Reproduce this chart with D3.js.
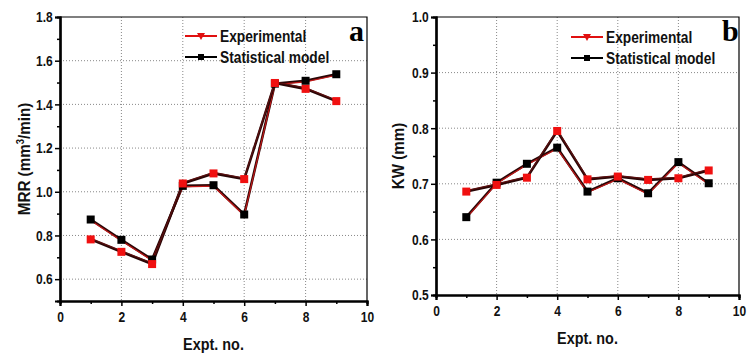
<!DOCTYPE html>
<html>
<head>
<meta charset="utf-8">
<script src="https://cdn.jsdelivr.net/npm/d3@7"></script>
<style>
  body { margin: 0; background: #fff; }
  text { font-family: "Liberation Sans", Arial, sans-serif; font-weight: bold; }
</style>
</head>
<body>
<script>
'use strict';

var expt = [1, 2, 3, 4, 5, 6, 7, 8, 9];

// panel a: MRR
var mrrExperimental = [0.782, 0.725, 0.669, 1.038, 1.084, 1.058, 1.498, 1.471, 1.415];
var mrrStatistical  = [0.873, 0.780, 0.690, 1.027, 1.030, 0.896, 1.495, 1.508, 1.538];
var mrrTicks = [0.6, 0.8, 1.0, 1.2, 1.4, 1.6, 1.8];

// panel b: KW
var kwExperimental = [0.686, 0.698, 0.711, 0.795, 0.708, 0.713, 0.707, 0.710, 0.724];
var kwStatistical  = [0.640, 0.702, 0.736, 0.765, 0.686, 0.710, 0.683, 0.739, 0.701];
var kwTicks = [0.5, 0.6, 0.7, 0.8, 0.9, 1.0];

var xTicks = [0, 2, 4, 6, 8, 10];
var legendNames = ["Experimental", "Statistical model"];

var svg = d3.select("body").append("svg")
   .attr("width", 752)
   .attr("height", 353);

// narrow-looking bold text (the original uses a condensed face)
function narrowText(parent, x, y, size, sx, str){
   return parent.append("text")
      .attr("transform", "translate(" + x + "," + y + ") scale(" + sx + ",1)")
      .attr("font-size", size).attr("fill", "#111")
      .text(str);
}

function drawPanel(cfg){
   var g = svg.append("g");
   var x = d3.scaleLinear().domain([0, 10]).range([cfg.left, cfg.right]);
   var y = d3.scaleLinear().domain(cfg.yDomain).range([cfg.bottom, cfg.top]);

   // dotted grid
   g.selectAll(".gx").data([2, 4, 6, 8]).enter().append("line")
      .attr("x1", function(d){ return x(d); }).attr("x2", function(d){ return x(d); })
      .attr("y1", cfg.top).attr("y2", cfg.bottom)
      .attr("stroke", "#888").attr("stroke-width", 1).attr("stroke-dasharray", "1,2");
   g.selectAll(".gy").data(cfg.grid).enter().append("line")
      .attr("x1", cfg.left).attr("x2", cfg.right)
      .attr("y1", function(d){ return y(d); }).attr("y2", function(d){ return y(d); })
      .attr("stroke", "#888").attr("stroke-width", 1).attr("stroke-dasharray", "1,2");

   // frame top/right
   g.append("path")
      .attr("d", "M" + cfg.left + "," + cfg.top + "H" + cfg.right + "V" + cfg.bottom)
      .attr("fill", "none").attr("stroke", "#000").attr("stroke-width", 1.2);

   // x axis
   g.append("g").attr("transform", "translate(0," + cfg.bottom + ")")
      .call(d3.axisBottom(x).tickValues(xTicks).tickFormat(d3.format("d")).tickSize(5).tickPadding(5));
   g.append("g").attr("transform", "translate(0," + cfg.bottom + ")")
      .call(d3.axisBottom(x).tickValues([1, 3, 5, 7, 9]).tickFormat("").tickSize(3));

   // y axis
   g.append("g").attr("transform", "translate(" + cfg.left + ",0)")
      .call(d3.axisLeft(y).tickValues(cfg.ticks).tickFormat(d3.format(".1f")).tickSize(5).tickPadding(4));
   g.append("g").attr("transform", "translate(" + cfg.left + ",0)")
      .call(d3.axisLeft(y).tickValues(cfg.minor).tickFormat("").tickSize(3));

   g.selectAll(".domain").attr("stroke", "#000").attr("stroke-width", 2.2);
   g.selectAll(".tick line").attr("stroke", "#000").attr("stroke-width", 1.5);
   g.selectAll(".tick text").attr("font-size", 15).attr("fill", "#111")
      .attr("transform", "scale(0.8,1)");

   // axis titles
   narrowText(g, (cfg.left + cfg.right) / 2, cfg.xTitleY, 16, 0.9, "Expt. no.")
      .attr("text-anchor", "middle");
   var yt = g.append("text")
      .attr("transform", "translate(" + cfg.yTitleX + "," + ((cfg.top + cfg.bottom) / 2) + ") rotate(-90) scale(0.95,1)")
      .attr("text-anchor", "middle").attr("font-size", 16).attr("fill", "#111");
   cfg.yTitle(yt);

   // lines: double stroke look
   var line = d3.line()
      .x(function(d, i){ return x(expt[i]); })
      .y(function(d){ return y(d); });

   [cfg.stat, cfg.exp].forEach(function(vals, k){
      g.append("path").attr("d", line(vals))
         .attr("fill", "none").attr("stroke", "#2a0606").attr("stroke-width", 2.6);
      g.append("path").attr("d", line(vals))
         .attr("transform", "translate(0," + (k === 0 ? 1 : -1) + ")")
         .attr("fill", "none").attr("stroke", k === 0 ? "#c01818" : "#5a1010").attr("stroke-width", 1.2);
   });

   // markers
   g.selectAll(".ms").data(cfg.stat).enter().append("rect")
      .attr("x", function(d, i){ return x(expt[i]) - 4; })
      .attr("y", function(d){ return y(d) - 4; })
      .attr("width", 8).attr("height", 8).attr("fill", "#000");
   g.selectAll(".me").data(cfg.exp).enter().append("rect")
      .attr("x", function(d, i){ return x(expt[i]) - 4; })
      .attr("y", function(d){ return y(d) - 4; })
      .attr("width", 8).attr("height", 8).attr("fill", "#f01010");

   // legend
   var lg = g.append("g").attr("transform", "translate(" + cfg.legendX + "," + cfg.legendY + ")");
   lg.append("line").attr("x1", 0).attr("x2", 32).attr("y1", 0).attr("y2", 0)
      .attr("stroke", "#e01010").attr("stroke-width", 2);
   lg.append("path").attr("d", "M12,-3L20,-3L16,4Z").attr("fill", "#e01010");
   lg.append("line").attr("x1", 0).attr("x2", 32).attr("y1", 21).attr("y2", 21)
      .attr("stroke", "#000").attr("stroke-width", 2);
   lg.append("rect").attr("x", 13).attr("y", 18).attr("width", 6).attr("height", 6).attr("fill", "#000");
   legendNames.forEach(function(d, i){
      narrowText(lg, 35, i * 21 + 6, 16, 0.86, d);
   });

   g.append("text").attr("x", cfg.letterX).attr("y", 41)
      .attr("font-size", 30).attr("fill", "#000")
      .style("font-family", "'Liberation Serif', 'Times New Roman', serif")
      .text(cfg.letter);
}

drawPanel({
   left: 60, right: 367, top: 17, bottom: 301,
   yDomain: [0.5, 1.8], ticks: mrrTicks, grid: [0.6, 0.8, 1.0, 1.2, 1.4, 1.6],
   minor: [0.7, 0.9, 1.1, 1.3, 1.5, 1.7],
   exp: mrrExperimental, stat: mrrStatistical,
   xTitleY: 350, yTitleX: 30,
   yTitle: function(t){
      t.append("tspan").text("MRR (mm");
      t.append("tspan").attr("font-size", 10).attr("dy", -6).text("3");
      t.append("tspan").attr("dy", 6).text("/min)");
   },
   legendX: 185, legendY: 36, letter: "a", letterX: 349
});

drawPanel({
   left: 436, right: 739, top: 17, bottom: 295,
   yDomain: [0.5, 1.0], ticks: kwTicks, grid: [0.6, 0.7, 0.8, 0.9],
   minor: [0.55, 0.65, 0.75, 0.85, 0.95],
   exp: kwExperimental, stat: kwStatistical,
   xTitleY: 344, yTitleX: 404,
   yTitle: function(t){ t.text("KW (mm)"); },
   legendX: 571, legendY: 37, letter: "b", letterX: 722
});
</script>
</body>
</html>
